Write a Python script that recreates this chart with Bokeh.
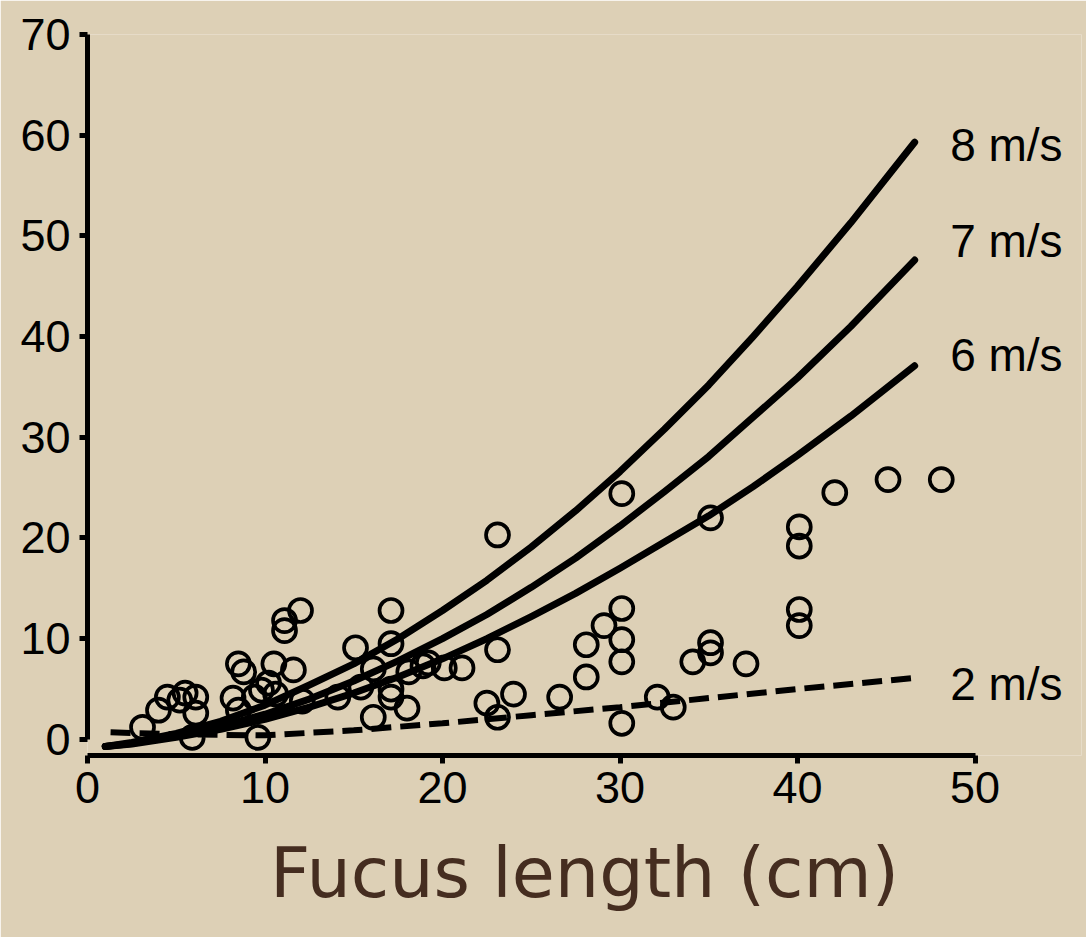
from bokeh.plotting import figure
from bokeh.models import Range1d, SingleIntervalTicker, FixedTicker, LinearAxis
from bokeh.core.properties import value
from bokeh.embed import file_html
from bokeh.resources import INLINE

# ---- data ----
length_cm = [3.1, 4.0, 4.5, 5.2, 5.5, 6.1, 6.1, 5.9, 8.2, 8.5, 8.8, 8.5, 9.6, 9.8,
             10.2, 10.5, 11.6, 11.1, 11.1, 12.0, 9.4, 12.1, 10.6, 15.1, 17.1, 17.1,
             16.1, 18.1, 18.9, 19.2, 20.1, 21.1, 14.1, 17.1, 16.1, 18.0, 15.4, 17.1,
             22.5, 23.1, 24.0, 23.1, 23.1, 26.6, 28.1, 28.1, 29.1, 30.1, 30.1, 30.1,
             30.1, 30.1, 32.1, 33.0, 34.1, 35.1, 35.1, 35.1, 37.1, 40.1, 40.1, 40.1,
             40.1, 42.1, 45.1, 48.1]
force_n = [1.2, 2.9, 4.2, 3.9, 4.6, 4.2, 2.6, 0.2, 4.1, 7.5, 6.7, 2.9, 0.2, 4.9,
           5.6, 7.5, 6.9, 10.8, 11.8, 12.8, 4.2, 3.8, 4.5, 9.1, 12.8, 9.5,
           7.0, 6.7, 7.3, 7.6, 7.1, 7.1, 4.2, 4.2, 2.2, 3.1, 5.2, 5.0,
           3.6, 2.2, 4.5, 8.9, 20.3, 4.2, 6.2, 9.4, 11.3, 13.0, 9.9, 7.7,
           1.6, 24.4, 4.2, 3.2, 7.7, 9.6, 8.6, 22.0, 7.5, 21.1, 19.2, 12.9,
           11.3, 24.5, 25.8, 25.8]

curve_x = [1, 2.5, 5, 7.5, 10, 12.5, 15, 17.5, 20, 22.5, 25, 27.5, 30, 32.5, 35,
           37.5, 40, 43, 46.6]
curve_8ms = [-0.7, -0.3, 0.6, 1.8, 3.4, 5.4, 7.5, 10.0, 12.8, 15.8, 19.1, 22.7, 26.6,
             30.8, 35.2, 40.0, 45.0, 51.3, 59.3]
curve_7ms = [-0.7, -0.4, 0.4, 1.3, 2.5, 4.0, 5.8, 7.8, 10.0, 12.4, 15.1, 18.0, 21.2,
             24.6, 28.1, 32.0, 35.9, 41.0, 47.6]
curve_6ms = [-0.7, -0.45, 0.2, 1.0, 2.0, 3.2, 4.6, 6.2, 8.0, 10.0, 12.2, 14.5, 17.0,
             19.6, 22.2, 25.1, 28.2, 32.1, 37.1]
dash_x = [1.3, 5, 10, 15, 20, 25, 30, 35, 40, 46.6]
curve_2ms = [0.7, 0.5, 0.4, 0.9, 1.6, 2.4, 3.2, 4.1, 5.0, 6.1]

curve_labels = ["8 m/s", "7 m/s", "6 m/s", "2 m/s"]
label_x = [48.6, 48.6, 48.6, 48.6]
label_y = [59.0, 49.45, 38.2, 5.46]

x_label = "Fucus length (cm)"

BG = "#ddd0b6"

p = figure(width=1086, height=937, x_range=Range1d(0, 56), y_range=Range1d(-1.6, 70),
           output_backend="svg", toolbar_location=None,
           min_border_left=87, min_border_right=5, min_border_top=34, min_border_bottom=182)
p.background_fill_color = BG
p.border_fill_color = BG
p.outline_line_color = None
p.grid.visible = False

for ax, b in ((p.xaxis, (0, 50)), (p.yaxis, (0, 70))):
    ax.bounds = b
    ax.ticker = SingleIntervalTicker(interval=10, num_minor_ticks=0)
    ax.axis_line_width = 5
    ax.axis_line_color = "black"
    ax.major_tick_line_width = 5
    ax.major_tick_out = 8
    ax.major_tick_in = 0
    ax.minor_tick_line_color = None
    ax.major_label_text_font = "Liberation Sans"
    ax.major_label_text_font_size = "45px"
    ax.major_label_text_color = "black"
p.yaxis.major_label_standoff = 9
p.xaxis.major_label_standoff = 8

# second, bare axis below that only carries the axis title
title_axis = LinearAxis(ticker=FixedTicker(ticks=[]), bounds=(0.6, 56),
                        axis_label=x_label, axis_line_color=None,
                        major_tick_line_color=None, minor_tick_line_color=None,
                        major_label_text_color=None,
                        axis_label_text_font="DejaVu Sans",
                        axis_label_text_font_size="70px",
                        axis_label_text_font_style="normal",
                        axis_label_text_color="#452d20",
                        axis_label_standoff=26)
p.add_layout(title_axis, "below")

p.scatter(length_cm, force_n, marker="circle", size=23, fill_color=None,
          line_color="black", line_width=3.7)

for ys in (curve_8ms, curve_7ms, curve_6ms):
    p.line(curve_x, ys, line_color="black", line_width=7, line_cap="round",
           line_join="round")
p.line(dash_x, curve_2ms, line_color="black", line_width=6, line_dash="20 9")

p.text(x=label_x, y=label_y, text=curve_labels, text_font=value("Liberation Sans"),
       text_font_size="46px", text_color="black", text_baseline="middle", text_align="left")

open("out.html", "w").write(file_html(p, INLINE))
